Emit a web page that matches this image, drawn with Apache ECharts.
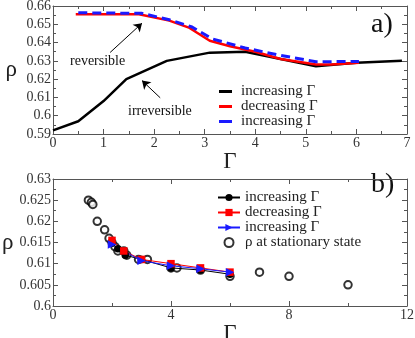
<!DOCTYPE html>
<html>
<head>
<meta charset="utf-8">
<script src="https://cdn.jsdelivr.net/npm/echarts@6/dist/echarts.min.js"></script>
<style>
  html, body { margin: 0; padding: 0; background: #fff; }
  #chart { width: 415px; height: 338px; }
</style>
</head>
<body>
<div id="chart"></div>
<script>
// panel a) hysteresis curves
const aIncreasing = [[0, 0.592], [0.5, 0.597], [1, 0.608], [1.45, 0.620], [2.25, 0.630], [3.1, 0.6345], [3.8, 0.635], [4.5, 0.631], [5.2, 0.627], [6, 0.629], [6.9, 0.630]];
const aDecreasing = [[0.45, 0.6555], [1.7, 0.6555], [2.3, 0.652], [2.7, 0.648], [3.1, 0.641], [3.5, 0.638], [4, 0.635], [4.5, 0.631], [5.2, 0.628], [5.5, 0.628], [6.05, 0.629]];
const aIncreasing2 = [[0.5, 0.6563], [1.75, 0.656], [2.3, 0.6525], [2.75, 0.6485], [3.15, 0.642], [3.8, 0.637], [4.5, 0.633], [5.2, 0.6295], [6.05, 0.6297]];

// panel b)
const bIncreasing = [[2, 0.6148], [2.2, 0.6135], [2.45, 0.612], [3, 0.611], [4, 0.609], [5, 0.6085], [6, 0.6075]];
const bDecreasing = [[2, 0.6155], [2.4, 0.613], [3, 0.611], [4, 0.610], [5, 0.609], [6, 0.608]];
const bIncreasing2 = [[2, 0.6145], [3, 0.6107], [4, 0.6095], [5, 0.6088], [6, 0.608]];
const bStationary = [[1.2, 0.625], [1.3, 0.6245], [1.35, 0.624], [1.5, 0.620], [1.75, 0.618], [1.9, 0.616], [2.0, 0.615], [2.1, 0.614], [2.2, 0.613], [2.4, 0.613], [2.5, 0.612], [2.9, 0.611], [3.2, 0.611], [4.0, 0.609], [4.2, 0.609], [5.0, 0.6085], [6.0, 0.607], [7.0, 0.608], [8.0, 0.607], [10.0, 0.605]];

const serif = 'Liberation Serif';
const frame = '#555';
const zw = '\u200B'; // keeps duplicate legend names apart

const chart = echarts.init(document.getElementById('chart'));

function mkAxis(extra, labels) {
  return Object.assign({
    type: 'value',
    axisLine: { show: true, onZero: false, lineStyle: { color: frame, width: 1 } },
    axisTick: { show: true, inside: true, length: 5, lineStyle: { color: frame } },
    minorTick: { show: true, splitNumber: 2, length: 3, lineStyle: { color: frame } },
    splitLine: { show: false },
    axisLabel: { show: labels, color: '#333', fontFamily: serif, fontSize: 14, margin: 2 },
    nameTextStyle: { color: '#222', fontFamily: serif, fontSize: 23 }
  }, extra);
}

chart.setOption({
  animation: false,
  backgroundColor: '#fff',
  grid: [
    { left: 53, right: 8, top: 6, height: 128, outerBoundsMode: 'none' },
    { left: 53, right: 8, top: 179, height: 127, outerBoundsMode: 'none' }
  ],
  xAxis: [
    mkAxis({ gridIndex: 0, min: 0, max: 7, interval: 1, name: 'Γ', nameLocation: 'middle', nameGap: 13 }, true),
    mkAxis({ gridIndex: 0, min: 0, max: 7, interval: 1, position: 'top' }, false),
    mkAxis({ gridIndex: 1, min: 0, max: 12, interval: 4, name: 'Γ', nameLocation: 'middle', nameGap: 12 }, true),
    mkAxis({ gridIndex: 1, min: 0, max: 12, interval: 4, position: 'top' }, false)
  ],
  yAxis: [
    mkAxis({ gridIndex: 0, min: 0.59, max: 0.66, interval: 0.01, name: 'ρ', nameLocation: 'middle', nameGap: 36, nameRotate: 0 }, true),
    mkAxis({ gridIndex: 0, min: 0.59, max: 0.66, interval: 0.01, position: 'right' }, false),
    mkAxis({ gridIndex: 1, min: 0.6, max: 0.63, interval: 0.005, name: 'ρ', nameLocation: 'middle', nameGap: 36, nameRotate: 0 }, true),
    mkAxis({ gridIndex: 1, min: 0.6, max: 0.63, interval: 0.005, position: 'right' }, false)
  ],
  legend: [
    {
      data: ['increasing Γ', 'decreasing Γ', 'increasing Γ' + zw],
      orient: 'vertical', left: 214, top: 79, itemGap: 0,
      icon: 'rect', itemWidth: 13, itemHeight: 3,
      textStyle: { fontFamily: serif, fontSize: 15, color: '#222', padding: [0, 0, 0, 4] }
    },
    {
      data: ['increasing Γ' + zw + zw, 'decreasing Γ' + zw + zw, 'increasing Γ' + zw + zw + zw, 'ρ at stationary state'],
      orient: 'vertical', left: 212, top: 185, itemGap: 0,
      itemWidth: 22, itemHeight: 9,
      textStyle: { fontFamily: serif, fontSize: 15, color: '#222' }
    }
  ],
  graphic: [
    { type: 'text', left: 371, top: 11, style: { text: 'a)', font: '28px "Liberation Serif"', fill: '#111' } },
    { type: 'text', left: 371, top: 171, style: { text: 'b)', font: '28px "Liberation Serif"', fill: '#111' } },
    { type: 'text', left: 70, top: 54, style: { text: 'reversible', font: '14px "Liberation Serif"', fill: '#111' } },
    { type: 'text', left: 128, top: 104, style: { text: 'irreversible', font: '14px "Liberation Serif"', fill: '#111' } }
  ],
  series: [
    {
      name: 'increasing Γ', type: 'line', xAxisIndex: 0, yAxisIndex: 0,
      data: aIncreasing, symbol: 'none', color: '#000',
      lineStyle: { color: '#000', width: 2.5 },
      markLine: {
        silent: true, symbol: ['none', 'arrow'], symbolSize: 8,
        lineStyle: { color: '#000', width: 1, type: 'solid' }, label: { show: false },
        data: [
          [{ coord: [1.13, 0.6346] }, { coord: [1.76, 0.6506] }],
          [{ coord: [2.12, 0.6098] }, { coord: [1.76, 0.6192] }]
        ]
      }
    },
    {
      name: 'decreasing Γ', type: 'line', xAxisIndex: 0, yAxisIndex: 0,
      data: aDecreasing, symbol: 'none', color: '#f00',
      lineStyle: { color: '#f00', width: 2.5 }
    },
    {
      name: 'increasing Γ' + zw, type: 'line', xAxisIndex: 0, yAxisIndex: 0,
      data: aIncreasing2, symbol: 'none', color: '#1a1aff',
      lineStyle: { color: '#1a1aff', width: 3, type: [9, 5] }
    },
    {
      name: 'ρ at stationary state', type: 'scatter', xAxisIndex: 2, yAxisIndex: 2,
      data: bStationary, symbol: 'emptyCircle', symbolSize: 7.5, color: '#000',
      itemStyle: { color: '#000', borderWidth: 1.4 }
    },
    {
      name: 'increasing Γ' + zw + zw, type: 'line', xAxisIndex: 2, yAxisIndex: 2,
      data: bIncreasing, symbol: 'circle', symbolSize: 7.5, color: '#000',
      lineStyle: { color: '#000', width: 1 }, itemStyle: { color: '#000' }
    },
    {
      name: 'decreasing Γ' + zw + zw, type: 'line', xAxisIndex: 2, yAxisIndex: 2,
      data: bDecreasing, symbol: 'rect', symbolSize: 7.5, color: '#f00',
      lineStyle: { color: '#f00', width: 1 }, itemStyle: { color: '#f00' }
    },
    {
      name: 'increasing Γ' + zw + zw + zw, type: 'line', xAxisIndex: 2, yAxisIndex: 2,
      data: bIncreasing2, symbol: 'path://M0,0 L10,5 L0,10 Z', symbolSize: 8.5, color: '#1a1aff',
      lineStyle: { color: '#1a1aff', width: 1 }, itemStyle: { color: '#1a1aff' }
    }
  ]
});
</script>
</body>
</html>
